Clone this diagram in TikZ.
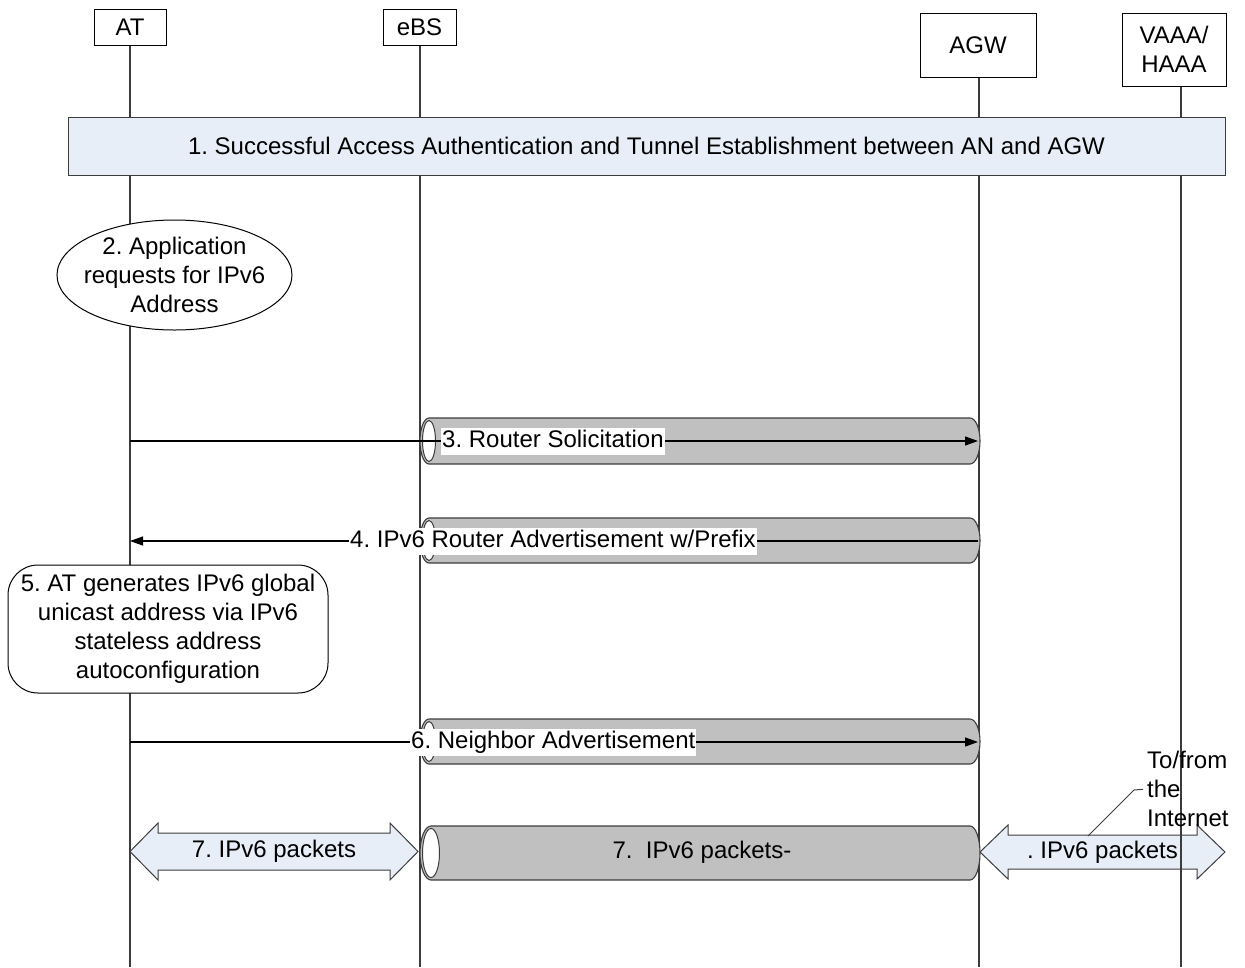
\documentclass[tikz,border=0pt]{standalone}
\usepackage{fontspec}
\setmainfont{Liberation Sans}
\usetikzlibrary{arrows.meta,calc,shapes.geometric}
\frenchspacing

\definecolor{bandblue}{RGB}{232,238,247}
\definecolor{pipegray}{RGB}{192,192,192}
\definecolor{edgegray}{RGB}{60,60,60}

\tikzset{
  hdr/.style={draw=black, fill=white, line width=1pt, inner sep=0pt, align=center},
  lifeline/.style={draw=edgegray, line width=1.1pt},
  pipebody/.style={fill=pipegray, draw=edgegray, line width=1.1pt},
  pipemouth/.style={fill=white, draw=edgegray, line width=1pt},
  msg/.style={draw=black, line width=1.1pt, -{Triangle[length=13pt,width=9pt]}},
  msglabel/.style={fill=white, inner xsep=1pt, inner ysep=2pt, text height=18pt, text depth=5pt},
  fatarrow/.style={fill=bandblue, draw=edgegray, line width=1pt, line join=miter},
  plain/.style={inner sep=0pt},
}

% horizontal tube: left mouth centre x, right end x, top y, bottom y, mouth radius
\newcommand{\drawpipe}[5]{%
  \pgfmathsetmacro\pipemid{(#3+#4)/2}%
  \pgfmathsetmacro\pipery{(#4-#3)/2}%
  \pgfmathsetmacro\pipeiry{(#4-#3)/2-2.5}%
  \pgfmathsetmacro\pipeirx{#5-2.5}%
  \path[pipebody] (#1,#3) -- (#2-10,#3)
     arc[start angle=-90, end angle=90, x radius=10, y radius=\pipery]
     -- (#1,#4)
     arc[start angle=90, end angle=270, x radius=#5, y radius=\pipery] -- cycle;
  \path[pipemouth] (#1,\pipemid) ellipse[x radius=\pipeirx, y radius=\pipeiry];
}

\begin{document}
\begin{tikzpicture}[x=1pt, y=-1pt, font=\fontsize{24}{29}\selectfont]
\useasboundingbox (0,0) rectangle (1245,967);

% entities
\node[hdr, minimum width=72, minimum height=36] (at) at (130,27) {AT};
\node[hdr, minimum width=73, minimum height=36] (ebs) at (419.5,27) {eBS};
\node[hdr, minimum width=116, minimum height=64] (agw) at (978,45) {AGW};
\node[hdr, minimum width=104, minimum height=73] (aaa) at (1174,49.5) {VAAA/\\HAAA};

\coordinate (atend) at (130,967);
\coordinate (ebsend) at (420,967);
\coordinate (agwend) at (979,967);
\coordinate (aaaend) at (1181,967);

% step 7 towards the Internet (under the lifelines)
\coordinate (agwpk) at (980,852);
\coordinate (netpk) at (1225,852);
\path[fatarrow] (agwpk) -- ++(28,-27) -- ++(0,10) -- ($(netpk)+(-28,-17)$) -- ++(0,-10)
   -- (netpk) -- ++(-28,27) -- ++(0,-10) -- ($(agwpk)+(28,17)$) -- ++(0,10) -- cycle;
\node[plain] (netpktext) at ($(agwpk)!0.5!(netpk)$) {. IPv6 packets};

% lifelines
\draw[lifeline] (at.south) -- (atend);
\draw[lifeline] (ebs.south -| ebsend) -- (ebsend);
\draw[lifeline] (agw.south -| agwend) -- (agwend);
\draw[lifeline] (aaa.south -| aaaend) -- (aaaend);

% step 1
\node[draw=edgegray, fill=bandblue, line width=1pt, minimum width=1157, minimum height=58, inner sep=0pt] (band) at (646.5,146)
  {1. Successful Access Authentication and Tunnel Establishment between AN and AGW};

% step 2
\path[draw=black, fill=white, line width=1pt] (174.5,275) ellipse[x radius=117.5, y radius=55];
\node[plain, align=center] (app) at (174.5,275) {2. Application\\requests for IPv6\\Address};

% step 5
\node[draw=black, fill=white, line width=1pt, rounded corners=30, minimum width=320, minimum height=128, inner sep=0pt, align=center] (gen) at (168,629)
  {5. AT generates IPv6 global\\unicast address via IPv6\\stateless address\\autoconfiguration};

% tunnels between eBS and AGW
\drawpipe{429}{980}{418}{464}{9}
\drawpipe{429}{980}{518}{563}{9}
\drawpipe{429}{980}{719}{764}{9}
\drawpipe{431}{980}{826}{880}{11}

% step 3
\coordinate (at3) at (130,441);
\coordinate (agw3) at (978,441);
\draw[msg] (at3) -- (agw3);
\node[msglabel, anchor=west] (lab3) at (441,441) {3. Router Solicitation};

% step 4
\coordinate (agw4) at (978,541);
\coordinate (at4) at (130,541);
\draw[msg] (agw4) -- (at4);
\node[msglabel, anchor=west] (lab4) at (349,541) {4. IPv6 Router Advertisement w/Prefix};

% step 6
\coordinate (at6) at (130,742);
\coordinate (agw6) at (978,742);
\draw[msg] (at6) -- (agw6);
\node[msglabel, anchor=west] (lab6) at (410,742) {6. Neighbor Advertisement};

% step 7 over the air and through the tunnel
\coordinate (atpk) at (130,851.5);
\coordinate (ebspk) at (418,851.5);
\path[fatarrow] (atpk) -- ++(28,-28.5) -- ++(0,10) -- ($(ebspk)+(-28,-18.5)$) -- ++(0,-10)
   -- (ebspk) -- ++(-28,28.5) -- ++(0,-10) -- ($(atpk)+(28,18.5)$) -- ++(0,10) -- cycle;
\node[plain] (atpktext) at ($(atpk)!0.5!(ebspk)$) {7. IPv6 packets};
\node[plain] (tunpktext) at (702,852) {7.\ \ IPv6 packets-};

% Internet callout
\coordinate (callpt) at (1088,836);
\node[plain, align=left, anchor=west] (inet) at (1147,789) {To/from\\the\\Internet};
\draw[draw=edgegray, line width=1pt, shorten >=4pt] (callpt) -- (1134,790) -- (inet.west);
\end{tikzpicture}
\end{document}
